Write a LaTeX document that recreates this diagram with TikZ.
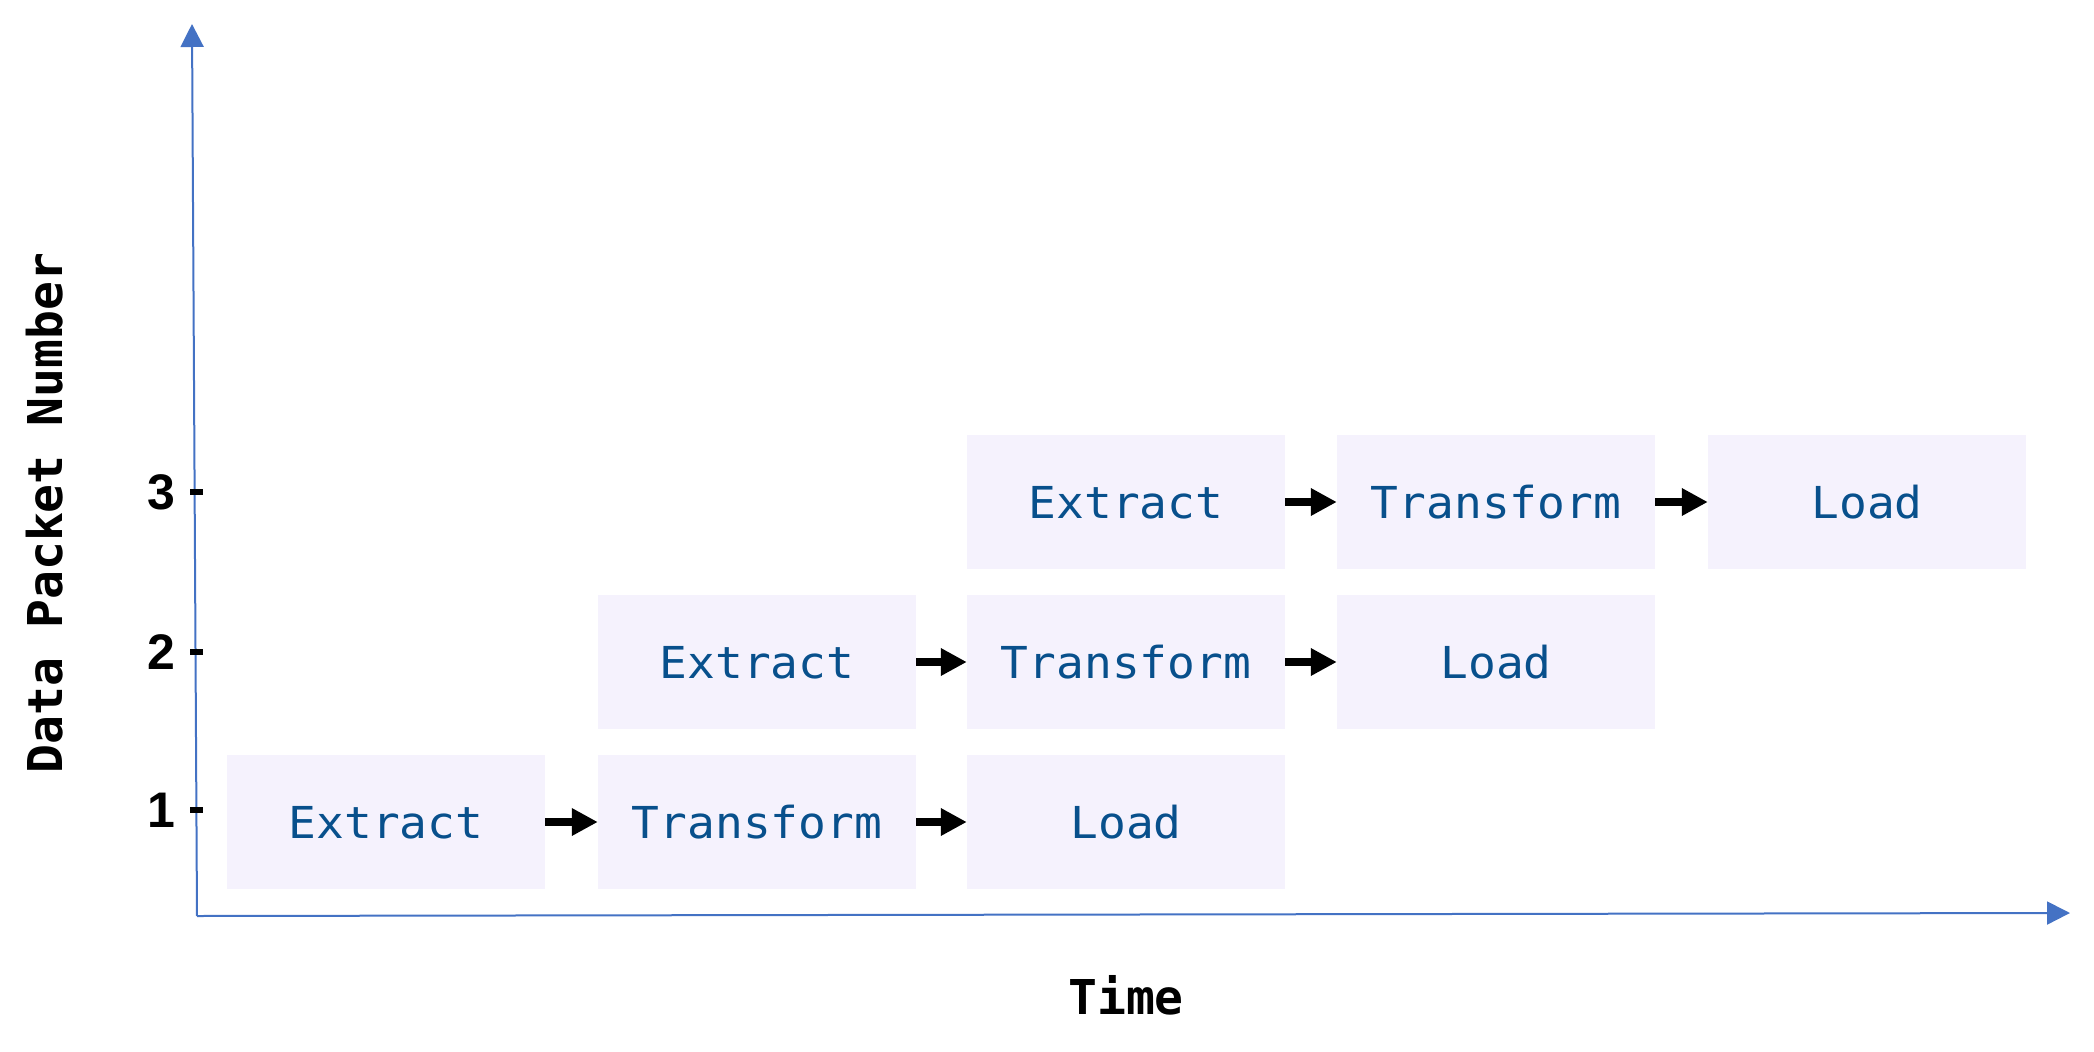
\documentclass[tikz,border=0pt]{standalone}
\usepackage{fontspec}
\usetikzlibrary{arrows.meta}
\newfontfamily\boxmono[FakeStretch=1.05]{DejaVu Sans Mono}
\newfontfamily\labelmono{DejaVu Sans Mono}
\newfontfamily\ticksans{Liberation Sans}
\definecolor{boxfill}{RGB}{245,242,253}
\definecolor{textblue}{RGB}{8,80,140}
\definecolor{axisblue}{RGB}{68,114,196}
\tikzset{
  stagebox/.style={fill=boxfill, draw=none, minimum width=318pt, minimum height=134pt,
    inner sep=0pt, text=textblue, font=\boxmono\fontsize{44}{44}\selectfont,
    text height=32pt, text depth=0pt},
  flow/.style={-{Triangle[length=26pt,width=26pt]}, line width=8pt, black},
  axis/.style={-{Triangle[length=23pt,width=23pt]}, line width=2pt, axisblue},
  tickmark/.style={line width=6pt, black},
  ticklabel/.style={font=\ticksans\bfseries\fontsize{50}{50}\selectfont, text=black, inner sep=0pt},
  axislabel/.style={font=\labelmono\bfseries\fontsize{48}{48}\selectfont, text=black, inner sep=0pt}
}
\begin{document}
\begin{tikzpicture}[x=1pt,y=-1pt]
\useasboundingbox (0,0) rectangle (2094,1052);
% axes
\coordinate (origin) at (197,916);
\coordinate (ytip) at (192,24);
\coordinate (xtip) at (2070,913);
\draw[axis] (origin) -- (ytip);
\draw[axis] (origin) -- (xtip);
% ticks
\foreach \n/\y in {1/810, 2/652, 3/492} {
  \coordinate (t\n a) at (190,\y);
  \coordinate (t\n b) at (203,\y);
  \draw[tickmark] (t\n a) -- (t\n b);
  \node[ticklabel] (tl\n) at (161,\y) {\n};
}
% boxes
\node[stagebox] (e1) at (386,822) {Extract};
\node[stagebox] (t1) at (757,822) {Transform};
\node[stagebox] (l1) at (1126,822) {Load};
\node[stagebox] (e2) at (757,662) {Extract};
\node[stagebox] (t2) at (1126,662) {Transform};
\node[stagebox] (l2) at (1496,662) {Load};
\node[stagebox] (e3) at (1126,502) {Extract};
\node[stagebox] (t3) at (1496,502) {Transform};
\node[stagebox] (l3) at (1867,502) {Load};
% flow arrows
\draw[flow] (e1.east) -- (t1.west);
\draw[flow] (t1.east) -- (l1.west);
\draw[flow] (e2.east) -- (t2.west);
\draw[flow] (t2.east) -- (l2.west);
\draw[flow] (e3.east) -- (t3.west);
\draw[flow] (t3.east) -- (l3.west);
% axis labels
\node[axislabel, rotate=90] (ylab) at (45,513) {Data Packet Number};
\node[axislabel] (xlab) at (1126,995) {Time};
\end{tikzpicture}
\end{document}
